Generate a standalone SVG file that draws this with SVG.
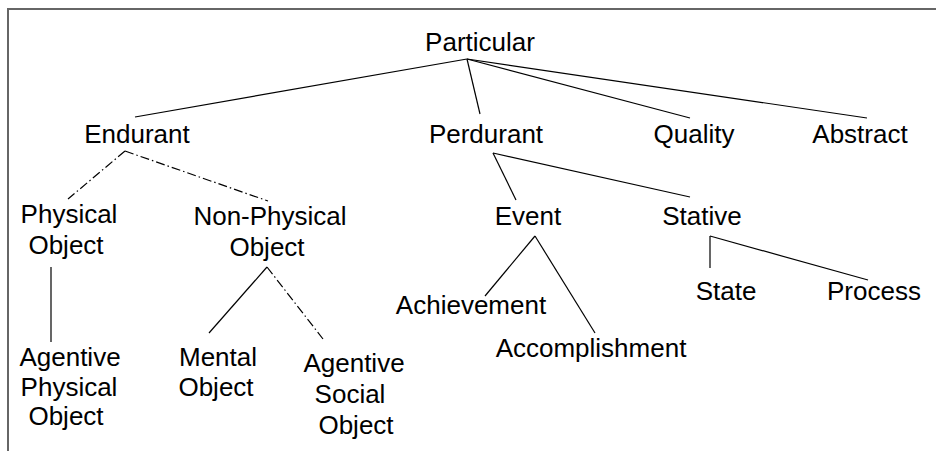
<svg xmlns="http://www.w3.org/2000/svg" width="936" height="451" viewBox="0 0 936 451">
<style>
text{font-family:"Liberation Sans",Arial,sans-serif;font-size:26px;fill:#000;text-anchor:middle}
.l{stroke:#000;stroke-width:1.2;fill:none}
.d{stroke:#000;stroke-width:1.2;fill:none;stroke-dasharray:9 3 1.5 3}
.frame{stroke:#666;stroke-width:2;fill:none}
</style>
<rect width="936" height="451" fill="#fff"/>
<path class="frame" d="M8,451 V9 H936"/>
<g id="connectors">
<path class="l" d="M467,59 L135,117"/>
<path class="l" d="M467,59 L480,114"/>
<path class="l" d="M467,59 L690,118"/>
<path class="l" d="M467,59 L867,118"/>
<path class="d" d="M125,151 L68,199"/>
<path class="d" d="M125,151 L268,201"/>
<path class="l" d="M51,267 V342"/>
<path class="l" d="M267,267 L209,333"/>
<path class="d" d="M267,267 L323,339"/>
<path class="l" d="M493,153 L516,200"/>
<path class="l" d="M493,153 L690,197"/>
<path class="l" d="M535,236 L485,296"/>
<path class="l" d="M535,236 L595,333"/>
<path class="l" d="M710,236 V268"/>
<path class="l" d="M710,236 L868,280"/>
</g>
<g id="particular"><text x="480" y="51">Particular</text></g>
<g id="endurant"><text x="137" y="143">Endurant</text></g>
<g id="perdurant"><text x="486" y="143">Perdurant</text></g>
<g id="quality"><text x="694" y="143">Quality</text></g>
<g id="abstract"><text x="860" y="143">Abstract</text></g>
<g id="physical-object"><text x="69" y="223">Physical</text><text x="66" y="254">Object</text></g>
<g id="non-physical-object"><text x="270" y="225">Non-Physical</text><text x="267" y="256">Object</text></g>
<g id="event"><text x="528" y="225">Event</text></g>
<g id="stative"><text x="702" y="225">Stative</text></g>
<g id="achievement"><text x="471" y="314">Achievement</text></g>
<g id="accomplishment"><text x="591" y="357">Accomplishment</text></g>
<g id="state"><text x="726" y="300">State</text></g>
<g id="process"><text x="874" y="300">Process</text></g>
<g id="agentive-physical-object"><text x="70" y="366">Agentive</text><text x="69" y="396">Physical</text><text x="66" y="425">Object</text></g>
<g id="mental-object"><text x="218" y="366">Mental</text><text x="216" y="396">Object</text></g>
<g id="agentive-social-object"><text x="354" y="372">Agentive</text><text x="350" y="403">Social</text><text x="356" y="434">Object</text></g>
</svg>
